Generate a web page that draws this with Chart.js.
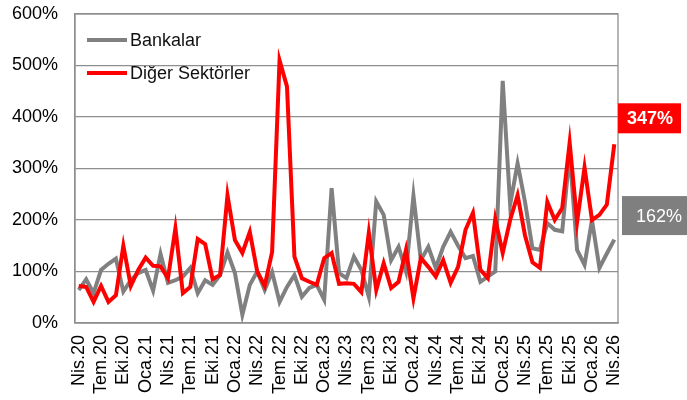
<!DOCTYPE html>
<html>
<head>
<meta charset="utf-8">
<script src="https://cdn.jsdelivr.net/npm/chart.js@4"></script>
<style>
  html, body { margin: 0; padding: 0; background: #ffffff; }
  #wrap { width: 687px; height: 400px; position: relative; }
</style>
</head>
<body>
<div id="wrap"><canvas id="c" width="687" height="400"></canvas></div>
<script>
// Monthly categories (Apr 2020 .. Apr 2026)
const months = [
  'Nis.20','May.20','Haz.20','Tem.20','Ağu.20','Eyl.20','Eki.20','Kas.20','Ara.20',
  'Oca.21','Şub.21','Mar.21','Nis.21','May.21','Haz.21','Tem.21','Ağu.21','Eyl.21','Eki.21','Kas.21','Ara.21',
  'Oca.22','Şub.22','Mar.22','Nis.22','May.22','Haz.22','Tem.22','Ağu.22','Eyl.22','Eki.22','Kas.22','Ara.22',
  'Oca.23','Şub.23','Mar.23','Nis.23','May.23','Haz.23','Tem.23','Ağu.23','Eyl.23','Eki.23','Kas.23','Ara.23',
  'Oca.24','Şub.24','Mar.24','Nis.24','May.24','Haz.24','Tem.24','Ağu.24','Eyl.24','Eki.24','Kas.24','Ara.24',
  'Oca.25','Şub.25','Mar.25','Nis.25','May.25','Haz.25','Tem.25','Ağu.25','Eyl.25','Eki.25','Kas.25','Ara.25',
  'Oca.26','Şub.26','Mar.26','Nis.26'
];

// Which category labels are printed on the axis (every quarter)
const shownTicks = [
  'Nis.20','Tem.20','Eki.20','Oca.21','Nis.21','Tem.21','Eki.21','Oca.22','Nis.22',
  'Tem.22','Eki.22','Oca.23','Nis.23','Tem.23','Eki.23','Oca.24','Nis.24','Tem.24',
  'Eki.24','Oca.25','Nis.25','Tem.25','Eki.25','Oca.26','Nis.26'
];

const seriesNames = ['Bankalar', 'Diğer Sektörler'];

// Values in %
const bankalar = [
  64, 85, 58, 103, 115, 125, 61, 83, 97, 103, 63, 134, 78, 83, 90, 107, 58, 83, 74, 93,
  137, 97, 16, 74, 100, 64, 99, 41, 70, 93, 51, 68, 74, 45, 262, 97, 87, 129, 103, 51,
  236, 210, 122, 148, 100, 247, 122, 148, 107, 148, 177, 150, 126, 130, 80, 90, 100, 470,
  230, 310, 235, 145, 142, 194, 181, 178, 330, 142, 113, 200, 107, 135, 162
];

const digerSektorler = [
  72, 70, 41, 72, 41, 54, 150, 72, 103, 127, 111, 110, 87, 184, 58, 70, 163, 153, 85, 93,
  248, 161, 136, 177, 100, 72, 138, 510, 459, 129, 87, 80, 74, 126, 136, 76, 77, 76, 60, 175,
  64, 116, 68, 80, 142, 48, 126, 109, 90, 122, 78, 109, 181, 214, 103, 87, 202, 136,
  200, 248, 170, 118, 107, 235, 200, 223, 350, 196, 302, 200, 210, 230, 347
];

const yTickValues = [0, 100, 200, 300, 400, 500, 600];

const FONT = "'Liberation Sans', Arial, sans-serif";
const GRAY = '#808080';
const RED = '#ff0000';
const GRID = '#8f8f8f';

const frameAndLegend = {
  id: 'frameAndLegend',
  beforeDatasetsDraw(chart) {
    const { ctx, chartArea: a } = chart;
    ctx.save();
    ctx.strokeStyle = GRID;
    ctx.lineWidth = 1.3;
    ctx.strokeRect(a.left, a.top, a.right - a.left, a.bottom - a.top);
    ctx.restore();
  },
  afterDatasetsDraw(chart) {
    const { ctx, chartArea: a } = chart;
    ctx.save();
    // legend inside plot
    const items = [
      { name: seriesNames[0], color: GRAY, dy: 26 },
      { name: seriesNames[1], color: RED, dy: 59 }
    ];
    ctx.font = '18px ' + FONT;
    ctx.textBaseline = 'middle';
    ctx.textAlign = 'left';
    items.forEach(it => {
      const y = a.top + it.dy;
      ctx.strokeStyle = it.color;
      ctx.lineWidth = 4;
      ctx.beginPath();
      ctx.moveTo(a.left + 12, y);
      ctx.lineTo(a.left + 52, y);
      ctx.stroke();
      ctx.fillStyle = '#111';
      ctx.fillText(it.name, a.left + 55, y + 1);
    });

    // end value boxes
    const ys = chart.scales.y;
    const lastR = digerSektorler[digerSektorler.length - 1];
    const lastB = bankalar[bankalar.length - 1];
    const ry = ys.getPixelForValue(lastR) - 26;
    const by = ys.getPixelForValue(lastB) - 24;

    ctx.fillStyle = RED;
    ctx.fillRect(a.right, ry - 15, 63, 30);
    ctx.fillStyle = '#ffffff';
    ctx.font = 'bold 18px ' + FONT;
    ctx.textAlign = 'center';
    ctx.fillText(lastR + '%', a.right + 32, ry + 1);

    ctx.fillStyle = '#7f7f7f';
    ctx.fillRect(a.right + 4, by - 19.5, 66, 39);
    ctx.fillStyle = '#ffffff';
    ctx.font = '18px ' + FONT;
    ctx.fillText(lastB + '%', a.right + 41, by + 1);
    ctx.restore();
  }
};

new Chart(document.getElementById('c'), {
  type: 'line',
  data: {
    labels: months,
    datasets: [
      {
        label: seriesNames[0],
        data: bankalar,
        borderColor: GRAY,
        backgroundColor: GRAY,
        borderWidth: 4,
        pointRadius: 0,
        tension: 0,
        order: 2
      },
      {
        label: seriesNames[1],
        data: digerSektorler,
        borderColor: RED,
        backgroundColor: RED,
        borderWidth: 4,
        pointRadius: 0,
        tension: 0,
        order: 1
      }
    ]
  },
  options: {
    responsive: false,
    animation: false,
    devicePixelRatio: 1,
    layout: { autoPadding: false, padding: { top: 14, right: 69, left: 0, bottom: 0 } },
    plugins: {
      legend: { display: false },
      tooltip: { enabled: false }
    },
    scales: {
      x: {
        type: 'category',
        offset: true,
        grid: { display: false, drawTicks: false },
        border: { display: true, color: GRID, width: 1.3 },
        ticks: {
          autoSkip: false,
          minRotation: 90,
          maxRotation: 90,
          padding: 12,
          color: '#000',
          font: { family: FONT, size: 18 },
          callback: function(v) {
            const l = this.getLabelForValue(v);
            return shownTicks.includes(l) ? l : '';
          }
        },
        afterFit: s => { s.height = 77; }
      },
      y: {
        min: 0,
        max: 600,
        afterBuildTicks: s => { s.ticks = yTickValues.map(v => ({ value: v })); },
        grid: { color: GRID, lineWidth: 1.3, drawTicks: false },
        border: { display: true, color: GRID, width: 1.3 },
        ticks: {
          padding: 17,
          color: '#000',
          font: { family: FONT, size: 18 },
          callback: v => v + '%'
        },
        afterFit: s => { s.width = 75; s.paddingTop = 0; s.paddingBottom = 0; }
      }
    }
  },
  plugins: [frameAndLegend]
});
</script>
</body>
</html>
